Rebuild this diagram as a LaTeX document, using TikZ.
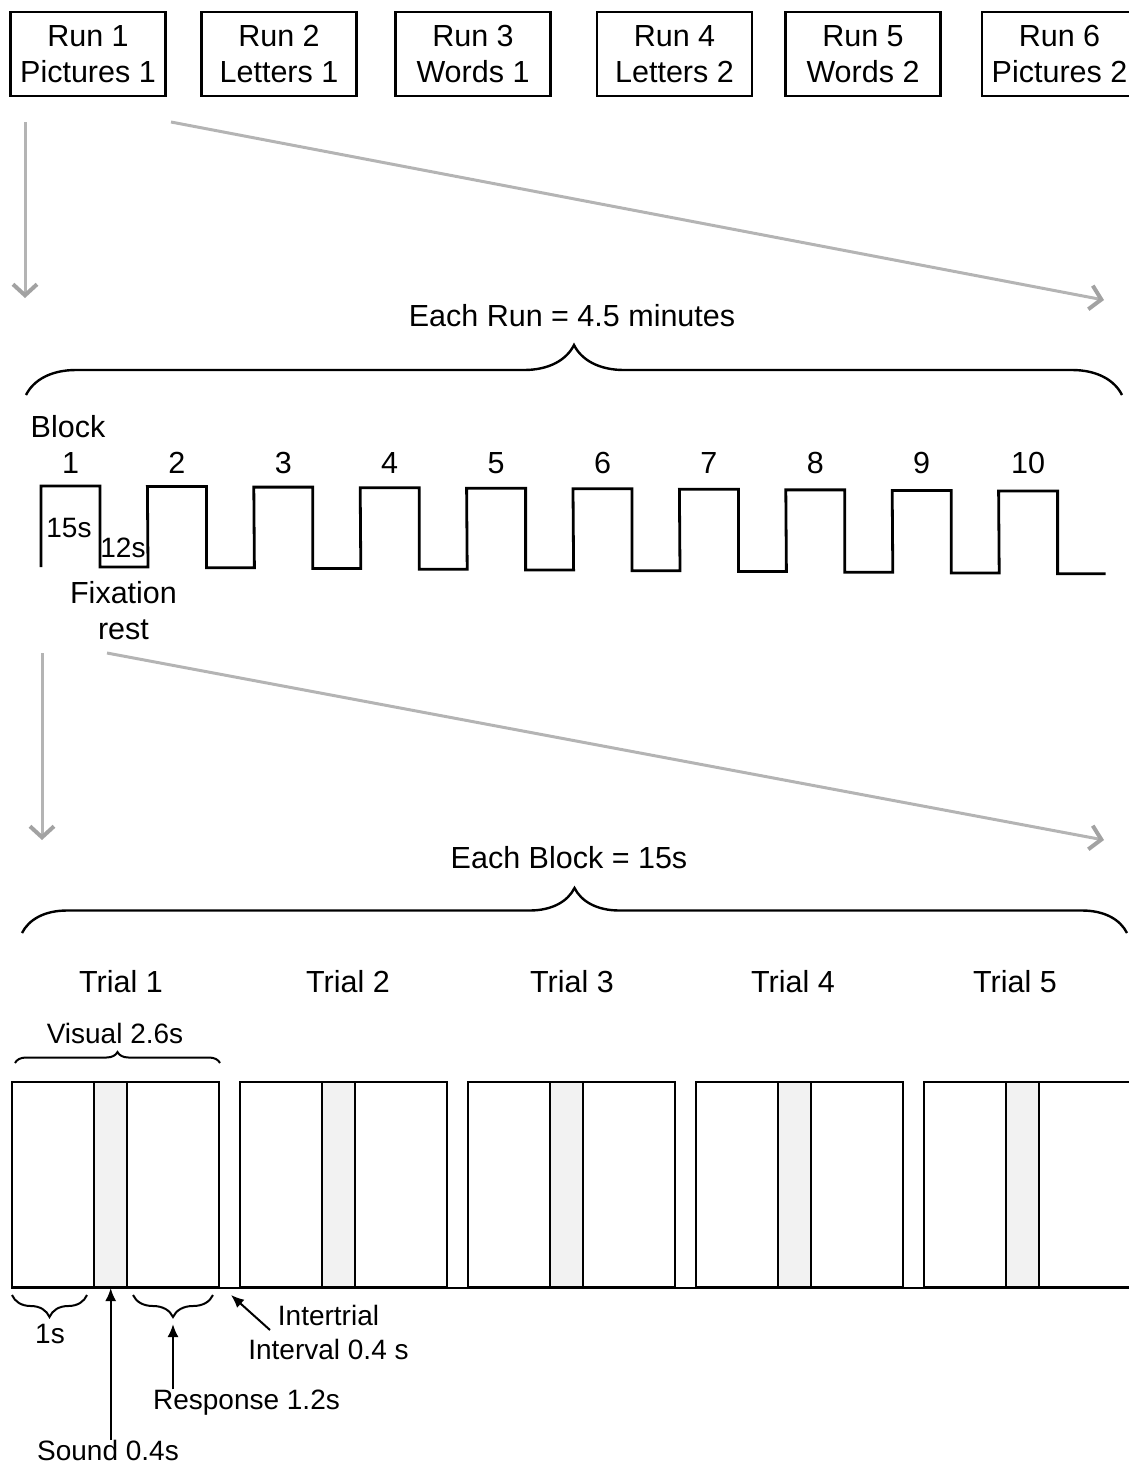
\documentclass[tikz,border=0pt]{standalone}
\usepackage{fontspec}
\setmainfont{Liberation Sans}
\usetikzlibrary{arrows.meta,decorations.pathreplacing}
\definecolor{arrowgray}{HTML}{B4B4B4}
\definecolor{soundgray}{HTML}{F2F2F2}
\newcommand\bigtxt{\fontsize{30.5}{36}\selectfont}
\newcommand\smalltxt{\fontsize{28}{34}\selectfont}
\tikzset{
runbox/.style={draw, line width=2.6pt, minimum width=155pt, minimum height=84pt,
  inner sep=0pt, align=center, text depth=0pt, font=\bigtxt},
bigtext/.style={inner sep=0pt, font=\bigtxt},
smalltext/.style={inner sep=0pt, font=\smalltxt},
zoomarrow/.style={draw=arrowgray, line width=3pt,
  -{Straight Barb[length=11pt,width=24pt,line width=4pt,color=arrowgray!90!black]}},
bigbrace/.style={decorate, line width=2.4pt, decoration={brace, amplitude=#1}},
smallbrace/.style={decorate, line width=2pt, decoration={brace, mirror, amplitude=#1}},
wave/.style={line width=2.8pt},
trialbox/.style={draw, line width=2.4pt, minimum width=207pt, minimum height=205pt,
  inner sep=0pt, anchor=south west},
soundbox/.style={trialbox, fill=soundgray, minimum width=33pt},
pointer/.style={line width=2pt, -{Latex[length=13pt,width=11pt]}}
}

\begin{document}
\begin{tikzpicture}[x=1pt, y=-1pt]
\useasboundingbox (0,0) rectangle (1129,1468);

% runs
\foreach \x/\lab [count=\i] in {88/Pictures 1, 279/Letters 1, 473/Words 1,
    674.5/Letters 2, 863/Words 2, 1059.5/Pictures 2}
  \node[runbox] (run\i) at (\x,54) {Run \i\\\lab};

\coordinate (runv) at (25,122);
\coordinate (rund) at (171,122);
\coordinate (wavev) at (25,298);
\coordinate (waved) at (1104,300);
\draw[zoomarrow] (runv) -- (wavev);
\draw[zoomarrow] (rund) -- (waved);

\node[bigtext, anchor=base] (eachrun) at (572,326) {Each Run = 4.5 minutes};
\draw[bigbrace=50] (26,395) -- (1122,395);

% blocks
\node[bigtext, anchor=base] (block) at (68,437) {Block};
\foreach \i in {1,...,10}
  \node[bigtext, anchor=base] (num\i) at ({70.5+106.4*(\i-1)},473) {\i};

\draw[wave] (41,567)
  \foreach \i in {0,...,9} {
    -- ({41+106.4*\i},{486+0.55*\i}) -- ({100+106.4*\i},{486+0.55*\i})
    -- ({100+106.4*\i},{567+0.75*\i}) -- ({148+106.4*\i},{567+0.75*\i})
  };

\node[smalltext, anchor=base] (on) at (69,537) {15s};
\node[smalltext, anchor=base] (off) at (123,557) {12s};
\node[bigtext, align=center, text depth=0pt] (fix) at (123.5,610) {Fixation\\rest};

\coordinate (blockv) at (42,653);
\coordinate (blockd) at (107,653);
\coordinate (trialv) at (42,840);
\coordinate (triald) at (1104,840);
\draw[zoomarrow] (blockv) -- (trialv);
\draw[zoomarrow] (blockd) -- (triald);

\node[bigtext, anchor=base] (eachblock) at (569,868) {Each Block = 15s};
\draw[bigbrace=45] (22,933) -- (1127,933);

% trials
\foreach \x [count=\i] in {121,348,572,793,1015}
  \node[bigtext, anchor=base] (trial\i) at (\x,992) {Trial \i};

\node[smalltext, anchor=base] (visual) at (115,1043) {Visual 2.6s};
\draw[bigbrace=11, line width=2pt] (15,1063) -- (220,1063);

\foreach \i in {1,...,5} {
  \node[trialbox] (box\i) at ({11+228*(\i-1)},1288) {};
  \node[soundbox] (snd\i) at ({93+228*(\i-1)},1288) {};
}
\coordinate (lineend) at (1129,1288);
\draw[line width=2.4pt] (box1.south west) -- (lineend);

% labels below
\draw[smallbrace=22] (12,1295) -- (87,1295);
\node[smalltext, anchor=base] (onesec) at (50,1343) {1s};

\draw[smallbrace=22] (133,1295) -- (213,1295);
\coordinate (resptip) at (173,1324);
\node[smalltext, anchor=base] (resp) at (246.5,1409) {Response 1.2s};
\draw[pointer] (resp.north -| resptip) -- (resptip);

\node[smalltext, anchor=base] (sound) at (108,1460) {Sound 0.4s};
\draw[pointer] (sound.north -| snd1.south) -- (snd1.south);

\node[smalltext, align=center, text depth=0pt] (iti) at (328.5,1332) {Intertrial\\Interval 0.4 s};
\coordinate (ititail) at (270,1330);
\coordinate (gap) at (231,1295);
\draw[pointer] (ititail) -- (gap);

\end{tikzpicture}
\end{document}
